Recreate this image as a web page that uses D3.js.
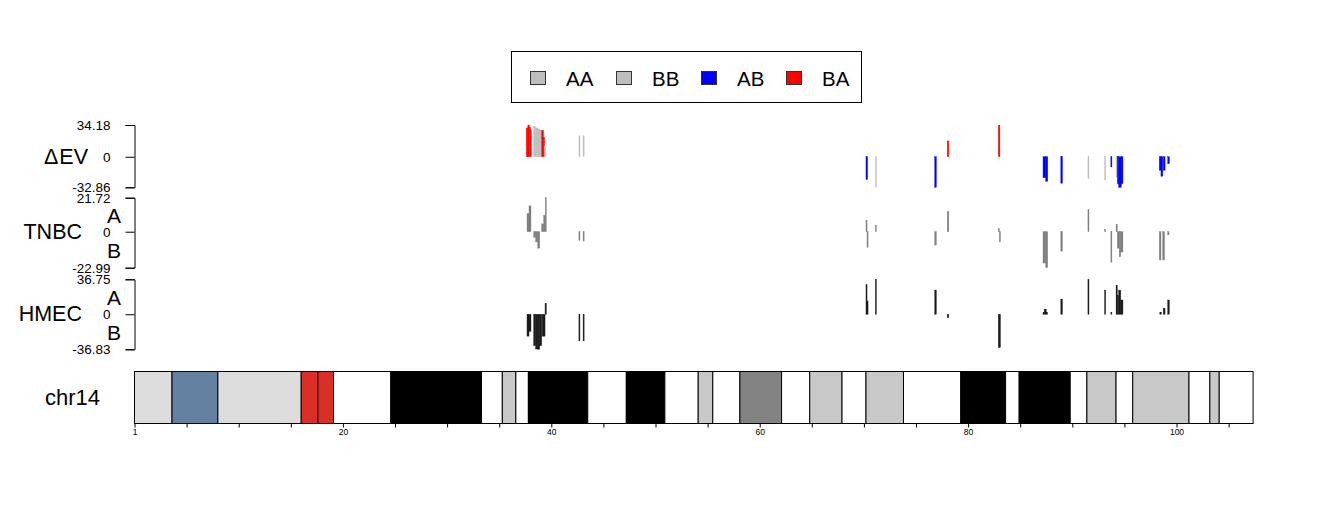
<!DOCTYPE html>
<html><head><meta charset="utf-8">
<script src="https://cdn.jsdelivr.net/npm/d3@7"></script>
<style>
body{margin:0;background:#fff}
svg{display:block}
text{font-family:"Liberation Sans",Arial,Helvetica,sans-serif}
</style>
</head><body>
<svg id="chart" width="1320" height="528"></svg>
<script>
// ---------- data ----------
const chrName = "chr14";
const chrLength = 107.34954; // Mb
const bandStart = [0,3.6,8.0,16.0,17.6,19.1,24.6,33.3,35.3,36.6,37.8,43.5,47.2,50.9,54.1,55.5,58.1,62.1,64.8,67.9,70.2,73.8,79.3,83.6,84.9,89.8,91.4,94.2,95.8,101.2,103.2,104.1];
const bandEnd   = [3.6,8.0,16.0,17.6,19.1,24.6,33.3,35.3,36.6,37.8,43.5,47.2,50.9,54.1,55.5,58.1,62.1,64.8,67.9,70.2,73.8,79.3,83.6,84.9,89.8,91.4,94.2,95.8,101.2,103.2,104.1,107.34954];
const bandStain = ["gvar","stalk","gvar","acen","acen","gneg","gpos100","gneg","gpos50","gneg","gpos100","gneg","gpos100","gneg","gpos25","gneg","gpos75","gneg","gpos50","gneg","gpos50","gneg","gpos100","gneg","gpos100","gneg","gpos25","gneg","gpos50","gneg","gpos50","gneg"];

const axisMinorTicks = [0,5,10,15,20,25,30,35,40,45,50,55,60,65,70,75,80,85,90,95,100,105];
const axisLabelPos = [0,20,40,60,80,100];
const axisLabels = ["1","20","40","60","80","100"];

const legendKeys = ["AA","BB","AB","BA"];

const dEvRange = [-32.86, 34.18];
const dEvTickLabels = ["-32.86","0","34.18"];
const dEvStart = [37.60,37.75,37.90,37.98,38.30,38.50,38.70,38.90,39.08,39.25,39.35,42.65,43.05,70.20,71.10,76.80,78.00,82.90,87.19,87.45,88.90,91.50,93.10,93.70,94.20,94.32,94.45,94.70,98.35,98.51,98.73,99.16];
const dEvEnd   = [37.75,37.90,37.98,38.06,38.50,38.70,38.90,39.08,39.25,39.35,39.45,42.75,43.15,70.35,71.20,76.95,78.15,83.05,87.45,87.64,89.05,91.60,93.20,93.80,94.32,94.45,94.70,94.86,98.51,98.68,98.90,99.31];
const dEvValue = [31,34.18,32,29,32.5,31,30,28.5,28.5,21,11,22.5,22.5,-24.5,-32.86,-32.86,17,34,-22.5,-26.5,-28.5,-23.5,-25,-11,-22,-29,-32.86,-29,-14.5,-21,-14.5,-7.5];
const dEvClass = ["BA","BA","BA","BA","AA","AA","BB","BB","BA","BA","AA","AA","AA","AB","BB","AB","BA","BA","AB","AB","AB","AA","BB","AB","AA","AB","AB","AB","AB","AB","AB","AB"];

const tnbcRange = [-22.99, 21.72];
const tnbcTickLabels = ["-22.99","0","21.72"];
const tnbcStart = [37.67,37.86,38.31,38.50,38.70,39.08,39.27,39.42,42.65,43.05,70.20,70.30,71.10,76.80,78.00,82.90,83.00,87.19,87.45,88.90,91.50,93.10,93.70,94.20,94.32,94.50,94.65,98.35,98.68,99.16];
const tnbcEnd   = [37.86,38.05,38.50,38.70,38.89,39.27,39.42,39.52,42.75,43.15,70.30,70.40,71.20,76.95,78.15,83.00,83.10,87.45,87.64,89.05,91.60,93.20,93.80,94.32,94.50,94.65,94.86,98.51,98.85,99.28];
const tnbcValue = [11.5,16.5,-3.5,-6.5,-10.5,5,10.5,21.72,-5.5,-6,7.3,-10,4,-8.5,13,2,-6.5,-20,-22.99,-12.5,14,1.5,-19.5,4.5,-10.5,-16,-13,-18,-18,-2];

const hmecRange = [-36.83, 36.75];
const hmecTickLabels = ["-36.83","0","36.75"];
const hmecStart = [37.67,37.86,38.31,38.50,38.70,38.89,39.12,39.40,42.65,43.05,70.20,70.30,71.10,76.80,78.00,82.90,87.19,87.30,87.50,88.90,91.50,93.10,93.70,94.20,94.32,94.45,94.65,98.40,98.73,99.16];
const hmecEnd   = [37.86,38.05,38.50,38.70,38.89,39.08,39.40,39.52,42.75,43.15,70.30,70.40,71.20,76.95,78.15,83.10,87.30,87.50,87.64,89.05,91.60,93.20,93.80,94.32,94.45,94.65,94.86,98.55,98.90,99.31];
const hmecValue = [-23,-18,-33,-36.5,-36.83,-33,-23,11.6,-28,-28,31,14,36.75,25.4,-3.5,-35,2,5.4,2,16,36.5,25.4,2,30.6,20,25.4,15,2,6.4,15];

// ---------- styles ----------
const stainColor = {gneg:"#ffffff",gpos25:"#c8c8c8",gpos50:"#c8c8c8",gpos75:"#828282",gpos100:"#000000",gvar:"#dcdcdc",stalk:"#6480a0",acen:"#d92f27"};
const classColor = {AA:"#bebebe",BB:"#bebebe",AB:"#0000ff",BA:"#ff0000"};
const FONT = '"Liberation Sans",Arial,Helvetica,sans-serif';

const svg = d3.select("#chart");
const x = d3.scaleLinear().domain([0, chrLength]).range([134.5, 134.5 + chrLength*10.42]);

// ---------- legend ----------
const lg = svg.append("g");
lg.append("rect").attr("x",511.5).attr("y",51.5).attr("width",350).attr("height",51)
  .attr("fill","#fff").attr("stroke","#000").attr("stroke-width",1);
const legendX = [530,616,701,786];
legendKeys.forEach((k,i)=>{
  lg.append("rect").attr("x",legendX[i]+0.5).attr("y",71.5).attr("width",15).attr("height",13)
    .attr("fill",classColor[k]).attr("stroke","#333").attr("stroke-width",1);
  lg.append("text").attr("x",legendX[i]+36).attr("y",85.5).attr("font-size",20.5).text(k);
});

// ---------- tracks ----------
function track(cfg){
  const y = d3.scaleLinear().domain(cfg.range).range([cfg.bottom, cfg.top]);
  const g = svg.append("g");
  const n = cfg.start.length;
  const idx = d3.range(n);
  g.selectAll("rect.bar").data(idx).enter().append("rect")
    .attr("class","bar")
    .attr("x", i => x(cfg.start[i]))
    .attr("width", i => Math.max(1, x(cfg.end[i]) - x(cfg.start[i])))
    .attr("y", i => y(Math.max(0, cfg.value[i])))
    .attr("height", i => Math.abs(y(cfg.value[i]) - y(0)))
    .attr("fill", i => cfg.color(i))
    .attr("stroke", i => cfg.color(i)).attr("stroke-width",0.4);
  const ax = d3.axisLeft(y)
    .tickValues([cfg.range[0], 0, cfg.range[1]])
    .tickFormat((d,i)=>cfg.tickLabels[i])
    .tickSize(9).tickSizeOuter(9).tickPadding(15);
  const a = g.append("g").attr("transform","translate(134.5,0)").call(ax);
  a.selectAll("text").attr("font-size",13.5).attr("font-family",FONT).attr("fill","#000");
  a.selectAll("line,path").attr("stroke","#000");
  const t = g.append("text").attr("x",cfg.labelX).attr("y",(y(0)))
    .attr("text-anchor","end").attr("dominant-baseline","central")
    .attr("font-size",21.5);
  if (cfg.delta){
    t.append("tspan").text("\u0394");
    t.append("tspan").attr("dx",1).text(cfg.label);
  } else t.text(cfg.label);
  if (cfg.ab){
    g.append("text").attr("x",114).attr("y",(y(0)+cfg.top)/2+0.5).attr("text-anchor","middle")
      .attr("dominant-baseline","central").attr("font-size",21).text("A");
    g.append("text").attr("x",114).attr("y",(y(0)+cfg.bottom)/2+0.5).attr("text-anchor","middle")
      .attr("dominant-baseline","central").attr("font-size",21).text("B");
  }
}
track({range:dEvRange,tickLabels:dEvTickLabels,top:125,bottom:187.3,start:dEvStart,end:dEvEnd,value:dEvValue,
  color:i=>classColor[dEvClass[i]],label:"EV",delta:true,labelX:88,ab:false});
track({range:tnbcRange,tickLabels:tnbcTickLabels,top:197.7,bottom:267.7,start:tnbcStart,end:tnbcEnd,value:tnbcValue,
  color:()=> "#7f7f7f",label:"TNBC",labelX:82,ab:true});
track({range:hmecRange,tickLabels:hmecTickLabels,top:279.3,bottom:349.3,start:hmecStart,end:hmecEnd,value:hmecValue,
  color:()=> "#1a1a1a",label:"HMEC",labelX:82,ab:true});

// ---------- ideogram ----------
const ideoTop = 371.5, ideoBottom = 423.5;
const ig = svg.append("g");
ig.selectAll("rect").data(d3.range(bandStart.length)).enter().append("rect")
  .attr("x", i => x(bandStart[i]))
  .attr("y", ideoTop)
  .attr("width", i => x(bandEnd[i]) - x(bandStart[i]))
  .attr("height", ideoBottom - ideoTop)
  .attr("fill", i => stainColor[bandStain[i]])
  .attr("stroke","#000").attr("stroke-width",1);
const minorAx = d3.axisBottom(x).tickValues(axisMinorTicks).tickFormat("").tickSize(4).tickSizeOuter(0);
const ma = ig.append("g").attr("transform",`translate(0,${ideoBottom})`).call(minorAx);
ma.select("path").remove();
ma.selectAll("line").attr("stroke","#000");
const labAx = d3.axisBottom(x).tickValues(axisLabelPos).tickFormat((d,i)=>axisLabels[i]).tickSize(0).tickPadding(5);
const la = ig.append("g").attr("transform",`translate(0,${ideoBottom})`).call(labAx);
la.select("path").remove();
la.selectAll("text").attr("font-size",8.5).attr("font-family",FONT).attr("fill","#000");
ig.append("text").attr("x",100).attr("y",(ideoTop+ideoBottom)/2).attr("text-anchor","end")
  .attr("dominant-baseline","central").attr("font-size",22).text(chrName);
</script>
</body></html>
